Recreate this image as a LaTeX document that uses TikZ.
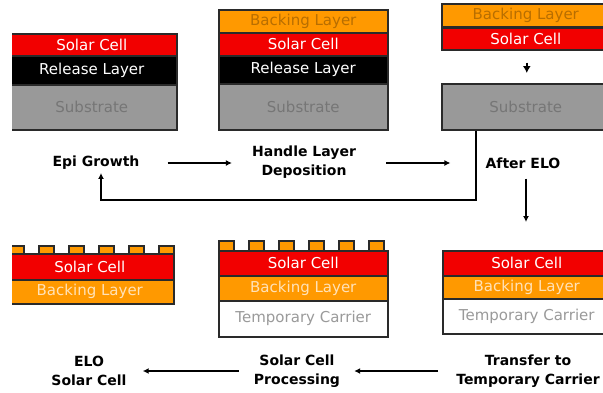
\documentclass[tikz,border=0pt]{standalone}
\usepackage{fontspec}
\setmainfont{DejaVu Sans}
\usetikzlibrary{arrows.meta}
\definecolor{cred}{HTML}{F20000}
\definecolor{corange}{HTML}{FF9900}
\definecolor{cgray}{HTML}{999999}
\definecolor{cborder}{HTML}{2A2A2A}
\definecolor{csubtext}{HTML}{767676}
\definecolor{cbacktext}{HTML}{B86E00}
\definecolor{cbacklight}{HTML}{FFE2B8}
\definecolor{ctemptext}{HTML}{9A9A9A}
\tikzset{
  layer/.style={draw=cborder, line width=1.6pt, inner sep=0pt, anchor=north west,
    font=\fontsize{15}{18}\selectfont},
  solar/.style={layer, fill=cred, text=white},
  release/.style={layer, fill=black, text=white},
  substr/.style={layer, fill=cgray, text=csubtext},
  backtop/.style={layer, fill=corange, text=cbacktext},
  backbot/.style={layer, fill=corange, text=cbacklight},
  tempc/.style={layer, fill=white, text=ctemptext},
  bump/.style={draw=cborder, line width=1.6pt, fill=corange, inner sep=0pt, anchor=north west,
    minimum width=15pt},
  lbl/.style={font=\bfseries\fontsize{14}{18.5}\selectfont, align=center, inner sep=0pt},
  arr/.style={draw=black, line width=1.3pt, -{Latex[length=6pt,width=6pt]}}
}
\begin{document}
\begin{tikzpicture}[x=1pt,y=-1pt]
\useasboundingbox (0,0) rectangle (603,392);
\clip (12,0) rectangle (603,392);
% Stack 1
\node[solar, minimum width=170, minimum height=22] (s1sc) at (6,33) {Solar Cell};
\node[release, minimum width=170, minimum height=29] (s1rl) at (6,55) {Release Layer};
\node[substr, minimum width=170, minimum height=45] (s1sub) at (6,84) {Substrate};
% Stack 2
\node[backtop, minimum width=169, minimum height=23] (s2bl) at (218,9) {Backing Layer};
\node[solar, minimum width=169, minimum height=23] (s2sc) at (218,32) {Solar Cell};
\node[release, minimum width=169, minimum height=28] (s2rl) at (218,55) {Release Layer};
\node[substr, minimum width=169, minimum height=46] (s2sub) at (218,83) {Substrate};
% Stack 3
\node[backtop, minimum width=168, minimum height=23] (s3bl) at (441,3) {Backing Layer};
\node[solar, minimum width=168, minimum height=22] (s3sc) at (441,27) {Solar Cell};
\draw[cborder, line width=2.6pt] (s3bl.south west) -- (s3bl.south east);
\node[substr, minimum width=168, minimum height=46] (s3sub) at (441,83) {Substrate};
% Stack 4
\foreach \i in {0,...,5} {
  \node[bump, minimum height=9] (b4\i) at (8+30*\i,245) {};
}
\node[solar, minimum width=168, minimum height=26] (s4sc) at (5,253) {Solar Cell};
\node[backbot, minimum width=168, minimum height=24] (s4bl) at (5,279) {Backing Layer};
% Stack 5
\foreach \i in {0,...,5} {
  \node[bump, minimum height=10] (b5\i) at (218+30*\i,240) {};
}
\node[solar, minimum width=169, minimum height=25] (s5sc) at (218,250) {Solar Cell};
\node[backbot, minimum width=169, minimum height=25] (s5bl) at (218,275) {Backing Layer};
\node[tempc, minimum width=169, minimum height=36] (s5tc) at (218,300) {Temporary Carrier};
% Stack 6
\node[solar, minimum width=168, minimum height=25] (s6sc) at (442,250) {Solar Cell};
\node[backbot, minimum width=168, minimum height=23] (s6bl) at (442,275) {Backing Layer};
\node[tempc, minimum width=168, minimum height=35] (s6tc) at (442,298) {Temporary Carrier};
% Labels
\node[lbl] (epi) at (96,163) {Epi Growth};
\node[lbl] (handle) at (304,162) {Handle Layer\\Deposition};
\node[lbl] (after) at (523,163) {After ELO};
\node[lbl] (elo) at (89,371) {ELO\\Solar Cell};
\node[lbl] (proc) at (297,371) {Solar Cell\\Processing};
\node[lbl] (trans) at (528,371) {Transfer to\\Temporary Carrier};
% Connectors
\draw[arr, shorten <=28pt, shorten >=20pt] (epi.east) -- (handle.west |- epi.east);
\draw[arr, shorten <=30pt, shorten >=35pt] (handle.east |- epi.east) -- (after.west);
\draw[draw=black, line width=1.6pt, -{Latex[length=7pt,width=8pt]}, shorten <=12pt, shorten >=10pt] ([xshift=1pt]s3sc.south) -- ([xshift=1pt]s3sub.north);
\draw[arr, shorten <=10pt, shorten >=28pt] ([xshift=3pt]after.south) -- ([xshift=3pt]after.south |- s6sc.north);
\coordinate (loop) at (101,200);
\draw[arr, shorten >=3pt] ([xshift=35pt]s3sub.south west) |- (loop) -- (loop |- epi.south);
\draw[arr, shorten <=18pt, shorten >=14pt] (trans.west |- proc.east) -- (proc.east);
\draw[arr, shorten <=15pt, shorten >=16pt] (proc.west) -- (elo.east);
\end{tikzpicture}
\end{document}
